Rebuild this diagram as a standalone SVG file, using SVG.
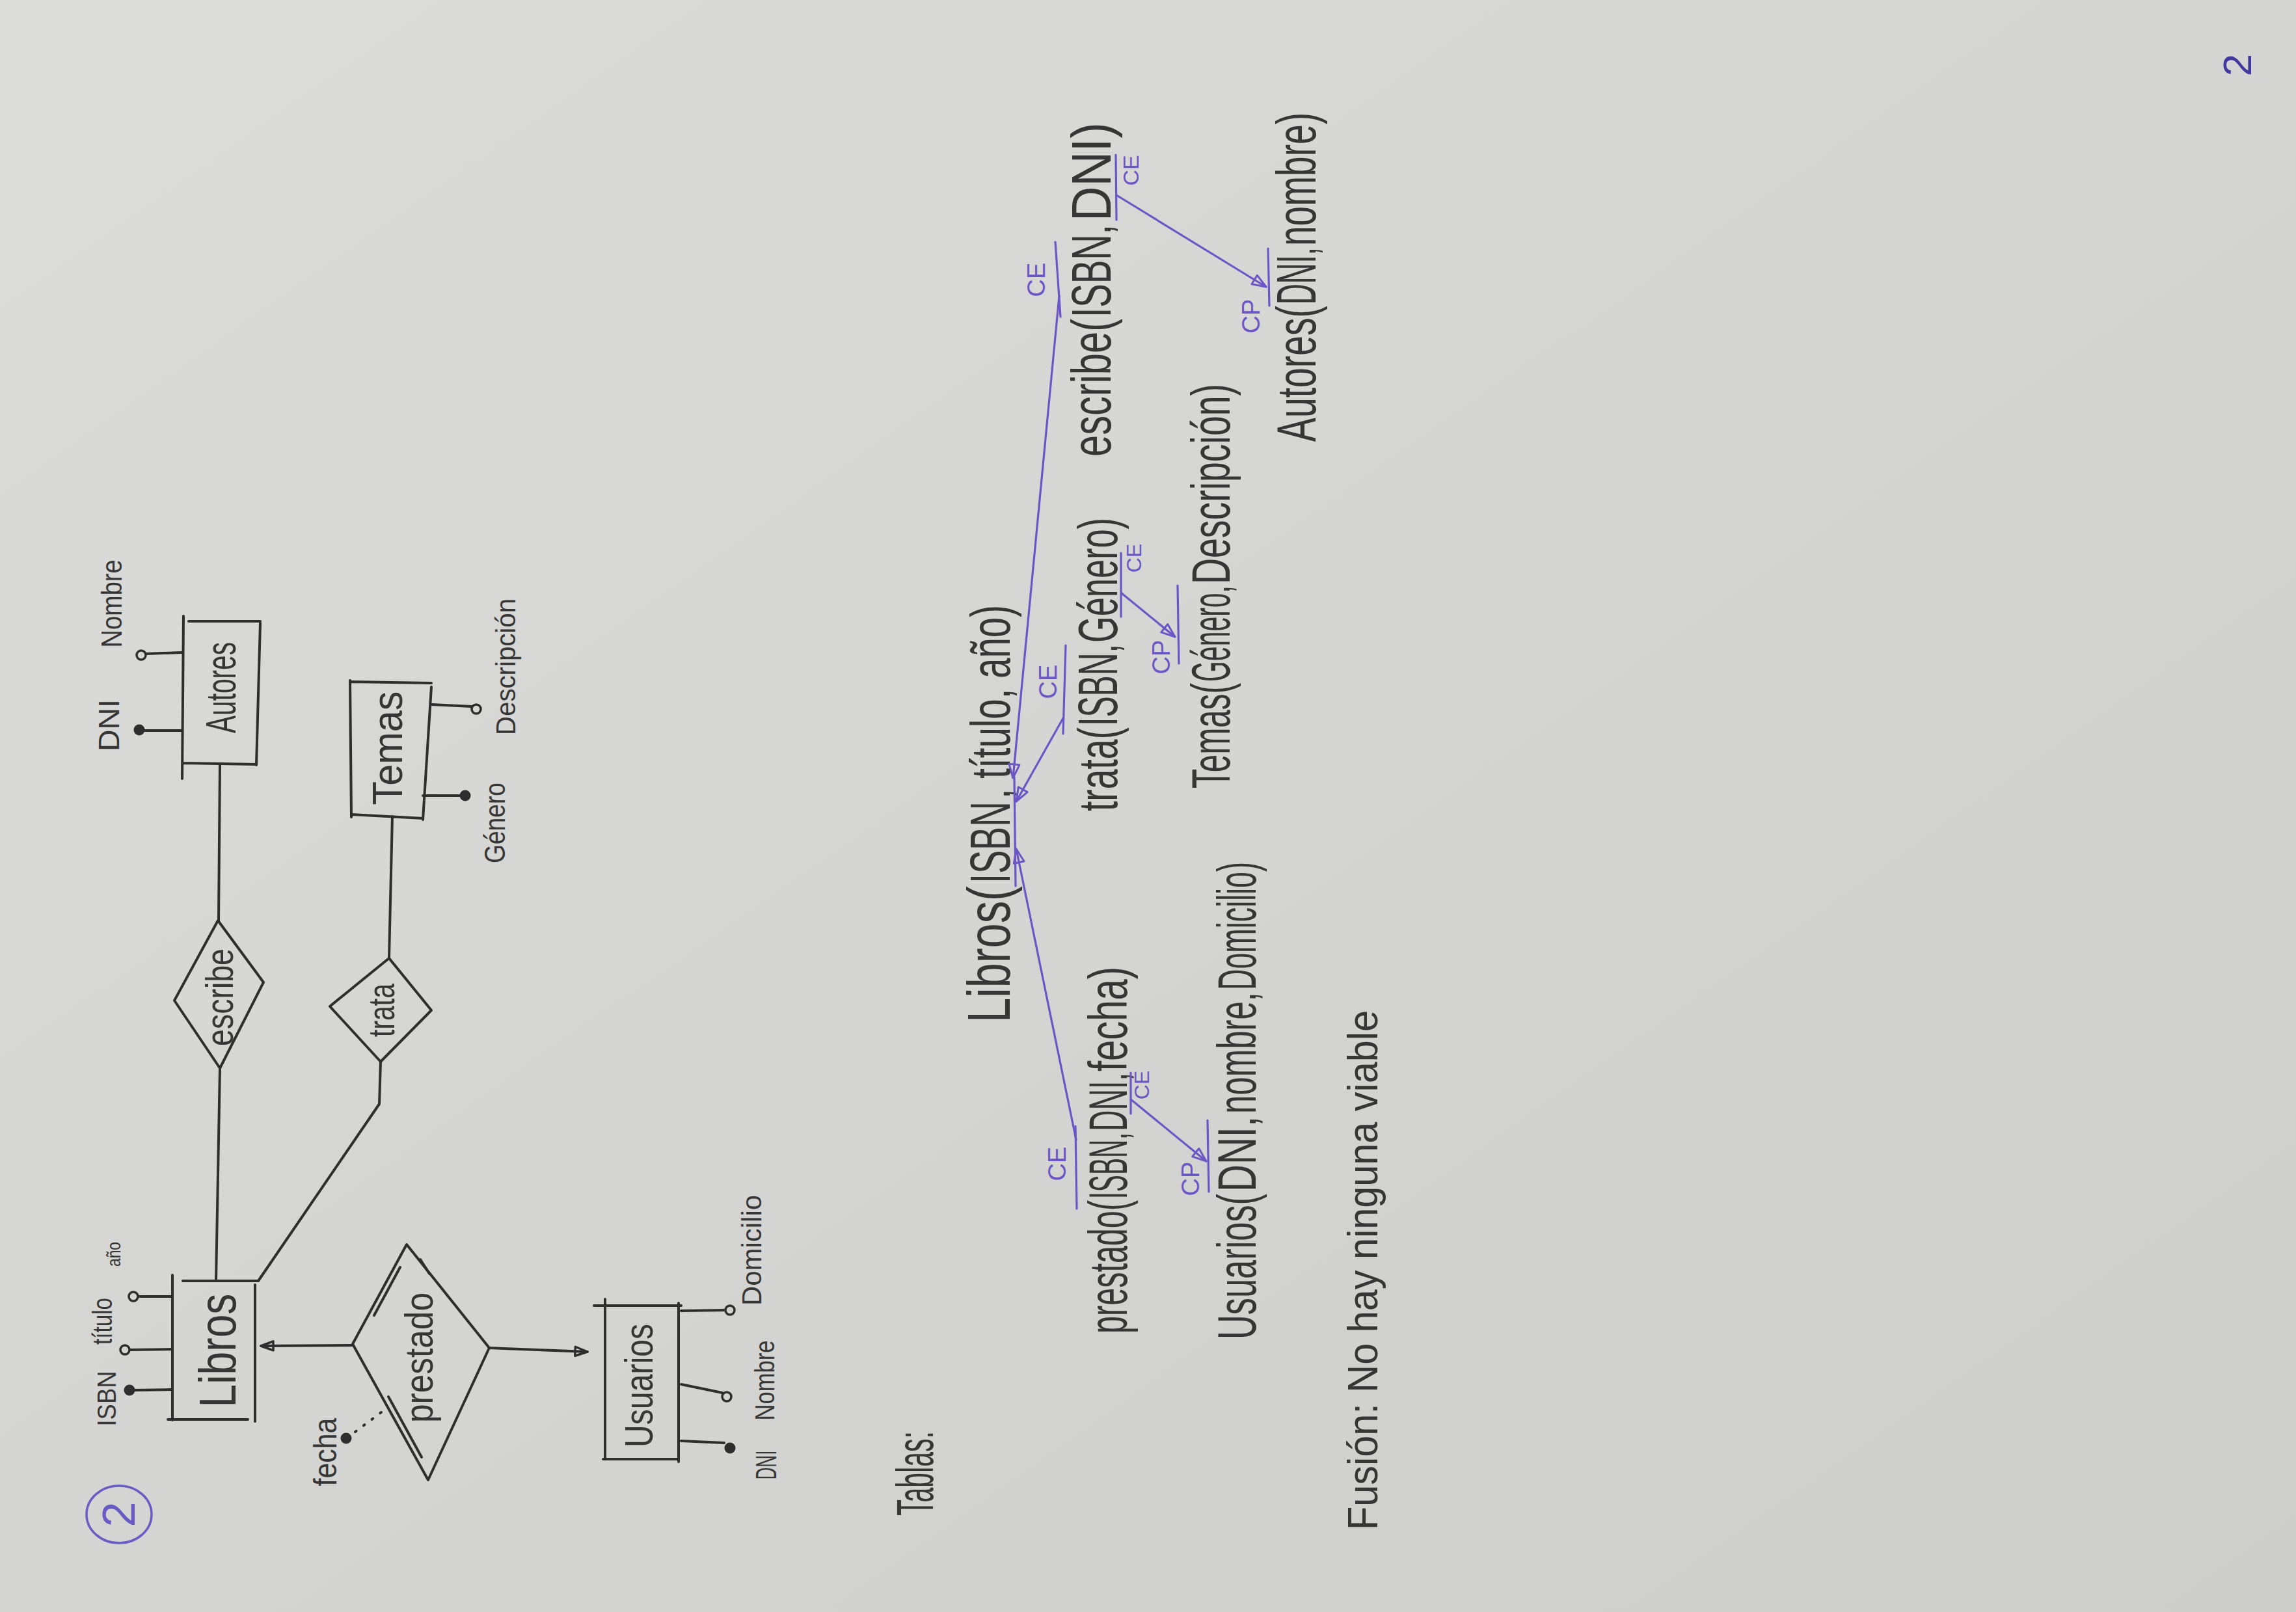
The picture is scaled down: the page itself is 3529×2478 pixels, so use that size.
<svg xmlns="http://www.w3.org/2000/svg" width="3529" height="2478" viewBox="0 0 3529 2478">
<defs>
  <linearGradient id="paper" x1="0" y1="0" x2="1" y2="1">
    <stop offset="0" stop-color="#dcdcda"/>
    <stop offset="1" stop-color="#cdcecc"/>
  </linearGradient>
  <marker id="tri-k" viewBox="0 0 22 18" refX="21" refY="9" markerWidth="22" markerHeight="18" markerUnits="userSpaceOnUse" orient="auto">
    <path d="M2,2 L21,9 L2,16 Z" fill="none" stroke="#2e2e2e" stroke-width="3.5" stroke-linejoin="round"/>
  </marker>
  <marker id="tri-p" viewBox="0 0 24 20" refX="23" refY="10" markerWidth="24" markerHeight="20" markerUnits="userSpaceOnUse" orient="auto">
    <path d="M2,2 L23,10 L2,18 Z" fill="none" stroke="#6a56c6" stroke-width="3" stroke-linejoin="round"/>
  </marker>
  <style>
    .ink{fill:none;stroke:#2e2e2e;stroke-width:4;stroke-linecap:round;stroke-linejoin:round}
    .dot{fill:#2e2e2e;stroke:#2e2e2e;stroke-width:3}
    .hollow{fill:none;stroke:#2e2e2e;stroke-width:3.5}
    .pen{fill:none;stroke:#6a56c6;stroke-width:3.2;stroke-linecap:round;stroke-linejoin:round}
    .t{font-family:"Liberation Sans",Arial,sans-serif;fill:#363636}
    .tp{font-family:"Liberation Sans",Arial,sans-serif;fill:#6a56c6}
  </style>
</defs>

<!-- paper -->
<rect x="0" y="0" width="3529" height="2478" fill="url(#paper)"/>

<!-- exercise number, circled -->
<g id="num-ejercicio">
  <ellipse cx="183" cy="2328" rx="50" ry="44" fill="none" stroke="#6a5ac4" stroke-width="3.5"/>
  <text class="tp" transform="rotate(-90)" x="-2328" y="207" font-size="70" text-anchor="middle" style="fill:#6a5ac4">2</text>
</g>

<!-- ===== ER diagram ===== -->
<g id="autores">
  <path class="ink" d="M282,947 L280,1197 M290,955 L400,955 M400,958 L394,1176 M282,1173 L394,1175"/>
  <text class="t" transform="rotate(-90)" x="-1057" y="362" font-size="64" text-anchor="middle" textLength="140" lengthAdjust="spacingAndGlyphs">Autores</text>
</g>
<g id="autores-dni">
  <path class="ink" d="M222,1123 L280,1123"/>
  <circle class="dot" cx="214" cy="1122" r="7"/>
  <text class="t" transform="rotate(-90)" x="-1115" y="183" font-size="44" text-anchor="middle" textLength="80" lengthAdjust="spacingAndGlyphs">DNI</text>
</g>
<g id="autores-nombre">
  <path class="ink" d="M225,1005 L280,1003"/>
  <circle class="hollow" cx="217" cy="1007" r="7"/>
  <text class="t" transform="rotate(-90)" x="-928" y="187" font-size="44" text-anchor="middle" textLength="135" lengthAdjust="spacingAndGlyphs">Nombre</text>
</g>

<g id="escribe">
  <polygon class="ink" points="335,1415 405,1510 338,1642 268,1538"/>
  <text class="t" transform="rotate(-90)" x="-1533" y="358" font-size="60" text-anchor="middle" textLength="150" lengthAdjust="spacingAndGlyphs">escribe</text>
</g>

<g id="temas">
  <path class="ink" d="M540,1048 L663,1050 M538,1046 L540,1256 M540,1252 L650,1258 M663,1056 L650,1260"/>
  <text class="t" transform="rotate(-90)" x="-1150" y="618" font-size="64" text-anchor="middle" textLength="175" lengthAdjust="spacingAndGlyphs">Temas</text>
</g>
<g id="temas-genero">
  <path class="ink" d="M650,1223 L708,1223"/>
  <circle class="dot" cx="715" cy="1223" r="7"/>
  <text class="t" transform="rotate(-90)" x="-1265" y="776" font-size="44" text-anchor="middle" textLength="124" lengthAdjust="spacingAndGlyphs">Género</text>
</g>
<g id="temas-descripcion">
  <path class="ink" d="M663,1083 L725,1086"/>
  <circle class="hollow" cx="732" cy="1090" r="7"/>
  <text class="t" transform="rotate(-90)" x="-1025" y="792" font-size="42" text-anchor="middle" textLength="210" lengthAdjust="spacingAndGlyphs">Descripción</text>
</g>

<g id="trata">
  <polygon class="ink" points="598,1473 663,1553 585,1632 507,1547"/>
  <text class="t" transform="rotate(-90)" x="-1553" y="606" font-size="58" text-anchor="middle" textLength="82" lengthAdjust="spacingAndGlyphs">trata</text>
</g>

<g id="libros">
  <path class="ink" d="M265,1960 L265,2183 M281,1969 L397,1969 M392,1975 L392,2185 M258,2182 L381,2182"/>
  <text class="t" transform="rotate(-90)" x="-2076" y="362" font-size="80" text-anchor="middle" textLength="175" lengthAdjust="spacingAndGlyphs">Libros</text>
</g>
<g id="libros-isbn">
  <path class="ink" d="M206,2137 L265,2136"/>
  <circle class="dot" cx="199" cy="2137" r="7"/>
  <text class="t" transform="rotate(-90)" x="-2150" y="178" font-size="40" text-anchor="middle" textLength="85" lengthAdjust="spacingAndGlyphs">ISBN</text>
</g>
<g id="libros-titulo">
  <path class="ink" d="M200,2075 L265,2074"/>
  <circle class="hollow" cx="192" cy="2075" r="7"/>
  <text class="t" transform="rotate(-90)" x="-2031" y="172" font-size="42" text-anchor="middle" textLength="72" lengthAdjust="spacingAndGlyphs">título</text>
</g>
<g id="libros-anio">
  <path class="ink" d="M213,1993 L265,1993"/>
  <circle class="hollow" cx="205" cy="1993" r="7"/>
  <text class="t" transform="rotate(-90)" x="-1928" y="185" font-size="30" text-anchor="middle" textLength="38" lengthAdjust="spacingAndGlyphs">año</text>
</g>

<g id="prestado">
  <polygon class="ink" points="625,1913 752,2072 658,2275 542,2066"/>
  <path class="ink" d="M575,2022 L615,1948 M646,1936 L660,1958 M597,2147 L648,2240"/>
  <text class="t" transform="rotate(-90)" x="-2087" y="665" font-size="62" text-anchor="middle" textLength="200" lengthAdjust="spacingAndGlyphs">prestado</text>
</g>
<g id="prestado-fecha">
  <circle class="dot" cx="532" cy="2211" r="7"/>
  <path class="ink" d="M546,2201 L590,2168" stroke-dasharray="2 14" stroke-width="5"/>
  <text class="t" transform="rotate(-90)" x="-2232" y="517" font-size="50" text-anchor="middle" textLength="105" lengthAdjust="spacingAndGlyphs">fecha</text>
</g>

<g id="usuarios">
  <path class="ink" d="M930,1997 L930,2243 M913,2007 L1047,2007 M1043,2003 L1043,2247 M927,2243 L1043,2243"/>
  <text class="t" transform="rotate(-90)" x="-2130" y="1003" font-size="62" text-anchor="middle" textLength="190" lengthAdjust="spacingAndGlyphs">Usuarios</text>
</g>
<g id="usuarios-dni">
  <path class="ink" d="M1047,2215 L1113,2218"/>
  <circle class="dot" cx="1122" cy="2226" r="7"/>
  <text class="t" transform="rotate(-90)" x="-2252" y="1193" font-size="44" text-anchor="middle" textLength="45" lengthAdjust="spacingAndGlyphs">DNI</text>
</g>
<g id="usuarios-nombre">
  <path class="ink" d="M1047,2128 L1110,2141"/>
  <circle class="hollow" cx="1117" cy="2147" r="7"/>
  <text class="t" transform="rotate(-90)" x="-2122" y="1190" font-size="42" text-anchor="middle" textLength="123" lengthAdjust="spacingAndGlyphs">Nombre</text>
</g>
<g id="usuarios-domicilio">
  <path class="ink" d="M1047,2015 L1114,2014"/>
  <circle class="hollow" cx="1122" cy="2014" r="7"/>
  <text class="t" transform="rotate(-90)" x="-1922" y="1170" font-size="42" text-anchor="middle" textLength="170" lengthAdjust="spacingAndGlyphs">Domicilio</text>
</g>

<!-- ER connectors -->
<g id="er-connectors">
  <path class="ink" d="M338,1175 L336,1415"/>
  <path class="ink" d="M338,1642 L332,1969"/>
  <path class="ink" d="M603,1255 L598,1473"/>
  <path class="ink" d="M585,1632 L583,1697 L397,1969"/>
  <path class="ink" d="M542,2068 L401,2069" marker-end="url(#tri-k)"/>
  <path class="ink" d="M752,2072 L903,2078" marker-end="url(#tri-k)"/>
</g>

<!-- ===== Tables ===== -->
<g id="tablas-titulo">
  <text class="t" transform="rotate(-90)" x="-2330" y="1434" font-size="80" textLength="130" lengthAdjust="spacingAndGlyphs">Tablas:</text>
</g>

<g id="tabla-libros">
  <text class="t" transform="rotate(-90)" x="-1572" y="1552" font-size="92" textLength="210" lengthAdjust="spacingAndGlyphs">Libros(</text>
  <text class="t" transform="rotate(-90)" x="-1358" y="1552" font-size="88" textLength="126" lengthAdjust="spacingAndGlyphs">ISBN</text>
  <text class="t" transform="rotate(-90)" x="-1228" y="1552" font-size="86" textLength="298" lengthAdjust="spacingAndGlyphs">, título, año)</text>
  <path class="pen" d="M1561,1362 L1559,1195"/>
</g>

<g id="tabla-escribe">
  <text class="t" transform="rotate(-90)" x="-702" y="1707" font-size="86" textLength="212" lengthAdjust="spacingAndGlyphs">escribe(</text>
  <text class="t" transform="rotate(-90)" x="-488" y="1707" font-size="86" textLength="143" lengthAdjust="spacingAndGlyphs">ISBN,</text>
  <text class="t" transform="rotate(-90)" x="-340" y="1707" font-size="86" textLength="152" lengthAdjust="spacingAndGlyphs">DNI)</text>
  <path class="pen" d="M1622,372 L1630,487"/>
  <text class="tp" transform="rotate(-90)" x="-430" y="1606" font-size="38" text-anchor="middle">CE</text>
  <path class="pen" d="M1715,238 L1716,338"/>
  <text class="tp" transform="rotate(-90)" x="-262" y="1750" font-size="34" text-anchor="middle">CE</text>
</g>

<g id="tabla-trata">
  <text class="t" transform="rotate(-90)" x="-1247" y="1717" font-size="86" textLength="129" lengthAdjust="spacingAndGlyphs">trata(</text>
  <text class="t" transform="rotate(-90)" x="-1116" y="1717" font-size="86" textLength="126" lengthAdjust="spacingAndGlyphs">ISBN,</text>
  <text class="t" transform="rotate(-90)" x="-988" y="1717" font-size="86" textLength="192" lengthAdjust="spacingAndGlyphs"> Género)</text>
  <path class="pen" d="M1634,1128 L1638,992"/>
  <text class="tp" transform="rotate(-90)" x="-1048" y="1624" font-size="38" text-anchor="middle">CE</text>
  <path class="pen" d="M1723,850 L1723,948"/>
  <text class="tp" transform="rotate(-90)" x="-858" y="1754" font-size="32" text-anchor="middle">CE</text>
</g>

<g id="tabla-prestado">
  <text class="t" transform="rotate(-90)" x="-2050" y="1732" font-size="84" textLength="205" lengthAdjust="spacingAndGlyphs">prestado(</text>
  <text class="t" transform="rotate(-90)" x="-1843" y="1732" font-size="84" textLength="102" lengthAdjust="spacingAndGlyphs">ISBN,</text>
  <text class="t" transform="rotate(-90)" x="-1739" y="1732" font-size="84" textLength="90" lengthAdjust="spacingAndGlyphs">DNI,</text>
  <text class="t" transform="rotate(-90)" x="-1647" y="1732" font-size="84" textLength="161" lengthAdjust="spacingAndGlyphs"> fecha)</text>
  <path class="pen" d="M1655,1858 L1653,1731"/>
  <text class="tp" transform="rotate(-90)" x="-1789" y="1638" font-size="38" text-anchor="middle">CE</text>
  <path class="pen" d="M1738,1649 L1738,1712"/>
  <text class="tp" transform="rotate(-90)" x="-1668" y="1766" font-size="32" text-anchor="middle">CE</text>
</g>

<g id="tabla-temas">
  <text class="t" transform="rotate(-90)" x="-1212" y="1890" font-size="84" textLength="162" lengthAdjust="spacingAndGlyphs">Temas(</text>
  <text class="t" transform="rotate(-90)" x="-1048" y="1890" font-size="84" textLength="148" lengthAdjust="spacingAndGlyphs">Género,</text>
  <text class="t" transform="rotate(-90)" x="-898" y="1890" font-size="84" textLength="308" lengthAdjust="spacingAndGlyphs"> Descripción)</text>
  <path class="pen" d="M1810,900 L1812,1020"/>
  <text class="tp" transform="rotate(-90)" x="-1010" y="1798" font-size="38" text-anchor="middle">CP</text>
</g>

<g id="tabla-usuarios">
  <text class="t" transform="rotate(-90)" x="-2059" y="1930" font-size="84" textLength="224" lengthAdjust="spacingAndGlyphs">Usuarios(</text>
  <text class="t" transform="rotate(-90)" x="-1832" y="1930" font-size="84" textLength="116" lengthAdjust="spacingAndGlyphs">DNI,</text>
  <text class="t" transform="rotate(-90)" x="-1712" y="1930" font-size="84" textLength="187" lengthAdjust="spacingAndGlyphs"> nombre,</text>
  <text class="t" transform="rotate(-90)" x="-1522" y="1930" font-size="84" textLength="197" lengthAdjust="spacingAndGlyphs">Domicilio)</text>
  <path class="pen" d="M1856,1722 L1858,1832"/>
  <text class="tp" transform="rotate(-90)" x="-1812" y="1843" font-size="38" text-anchor="middle">CP</text>
</g>

<g id="tabla-autores">
  <text class="t" transform="rotate(-90)" x="-679" y="2022" font-size="86" textLength="209" lengthAdjust="spacingAndGlyphs">Autores(</text>
  <text class="t" transform="rotate(-90)" x="-468" y="2022" font-size="86" textLength="88" lengthAdjust="spacingAndGlyphs">DNI,</text>
  <text class="t" transform="rotate(-90)" x="-378" y="2022" font-size="86" textLength="205" lengthAdjust="spacingAndGlyphs"> nombre)</text>
  <path class="pen" d="M1949,382 L1951,470"/>
  <text class="tp" transform="rotate(-90)" x="-486" y="1936" font-size="38" text-anchor="middle">CP</text>
</g>

<!-- foreign key references -->
<g id="fk-connectors">
  <path class="pen" d="M1628,455 L1557,1196" marker-end="url(#tri-p)"/>
  <path class="pen" d="M1634,1104 L1562,1232" marker-end="url(#tri-p)"/>
  <path class="pen" d="M1654,1752 L1562,1305" marker-end="url(#tri-p)"/>
  <path class="pen" d="M1738,1690 L1854,1785" marker-end="url(#tri-p)"/>
  <path class="pen" d="M1724,912 L1806,979" marker-end="url(#tri-p)"/>
  <path class="pen" d="M1716,300 L1946,441" marker-end="url(#tri-p)"/>
</g>

<g id="fusion">
  <text class="t" transform="rotate(-90)" x="-2352" y="2117" font-size="64" textLength="799" lengthAdjust="spacingAndGlyphs">Fusión: No hay ninguna viable</text>
</g>

<!-- page number -->
<g id="pagina">
  <text class="tp" transform="rotate(-90)" x="-100" y="3460" font-size="62" text-anchor="middle" style="fill:#43389e">2</text>
</g>
</svg>
